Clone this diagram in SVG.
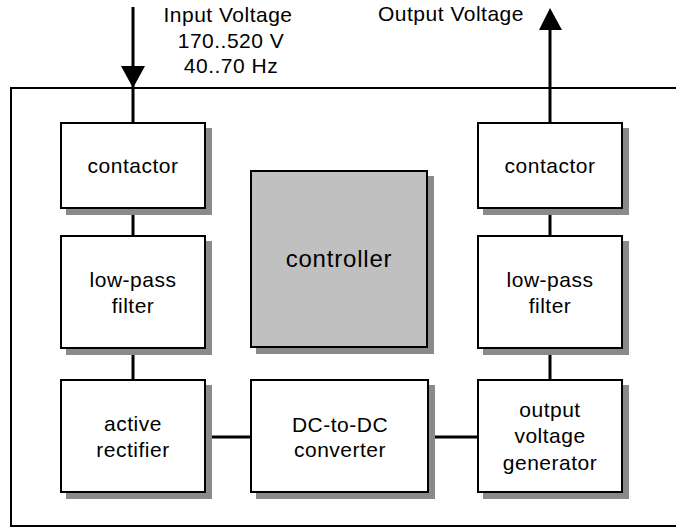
<svg xmlns="http://www.w3.org/2000/svg" width="676" height="528" viewBox="0 0 676 528">
<style>
  .box { fill: #ffffff; stroke: #000000; stroke-width: 2; }
  .ctrl { fill: #c0c0c0; stroke: #000000; stroke-width: 2; }
  .shadow { fill: #8a8a8a; stroke: none; }
  .wire { stroke: #000000; stroke-width: 3; fill: none; }
  .frame { stroke: #000000; stroke-width: 2; fill: none; }
  .head { fill: #000000; stroke: none; }
  text { font-family: "Liberation Sans", Arial, sans-serif; font-size: 21px; letter-spacing: 0.5px; fill: #000000; text-anchor: middle; }
  .big { font-size: 24px; letter-spacing: 0.8px; }
</style>
<rect width="676" height="528" fill="#ffffff"/>
<path class="frame" d="M676,88 H11 V526 H676"/>

<g id="connectors">
  <line class="wire" x1="133" y1="7" x2="133" y2="123"/>
  <polygon class="head" points="121,66 145,66 133,88"/>
  <line class="wire" x1="133" y1="209" x2="133" y2="236"/>
  <line class="wire" x1="133" y1="349" x2="133" y2="380"/>
  <line class="wire" x1="206" y1="437" x2="251" y2="437"/>
  <line class="wire" x1="428" y1="437" x2="478" y2="437"/>
  <line class="wire" x1="550" y1="349" x2="550" y2="380"/>
  <line class="wire" x1="550" y1="209" x2="550" y2="236"/>
  <line class="wire" x1="550" y1="123" x2="550" y2="28"/>
  <polygon class="head" points="539,30 562,30 550,8"/>
</g>

<g id="labels">
  <text x="228" y="22">Input Voltage</text>
  <text x="231" y="48">170..520 V</text>
  <text x="231" y="73">40..70 Hz</text>
  <text x="451" y="21">Output Voltage</text>
</g>

<g id="contactor-in">
  <rect class="shadow" x="66" y="128" width="146" height="87"/>
  <rect class="box" x="61" y="123" width="144" height="85"/>
  <text x="133" y="173">contactor</text>
</g>

<g id="lowpass-in">
  <rect class="shadow" x="66" y="241" width="146" height="114"/>
  <rect class="box" x="61" y="236" width="144" height="112"/>
  <text x="133" y="287">low-pass</text>
  <text x="133" y="313">filter</text>
</g>

<g id="active-rectifier">
  <rect class="shadow" x="66" y="385" width="146" height="114"/>
  <rect class="box" x="61" y="380" width="144" height="112"/>
  <text x="133" y="431">active</text>
  <text x="133" y="457">rectifier</text>
</g>

<g id="controller">
  <rect class="shadow" x="256" y="176" width="178" height="178"/>
  <rect class="ctrl" x="251" y="171" width="176" height="176"/>
  <text class="big" x="339" y="267">controller</text>
</g>

<g id="dc-dc">
  <rect class="shadow" x="256" y="385" width="179" height="114"/>
  <rect class="box" x="251" y="380" width="177" height="112"/>
  <text x="340" y="432">DC-to-DC</text>
  <text x="340" y="457">converter</text>
</g>

<g id="contactor-out">
  <rect class="shadow" x="483" y="128" width="146" height="87"/>
  <rect class="box" x="478" y="123" width="144" height="85"/>
  <text x="550" y="173">contactor</text>
</g>

<g id="lowpass-out">
  <rect class="shadow" x="483" y="241" width="146" height="114"/>
  <rect class="box" x="478" y="236" width="144" height="112"/>
  <text x="550" y="287">low-pass</text>
  <text x="550" y="313">filter</text>
</g>

<g id="output-generator">
  <rect class="shadow" x="483" y="385" width="146" height="114"/>
  <rect class="box" x="478" y="380" width="144" height="112"/>
  <text x="550" y="417">output</text>
  <text x="550" y="443">voltage</text>
  <text x="550" y="470">generator</text>
</g>
</svg>
